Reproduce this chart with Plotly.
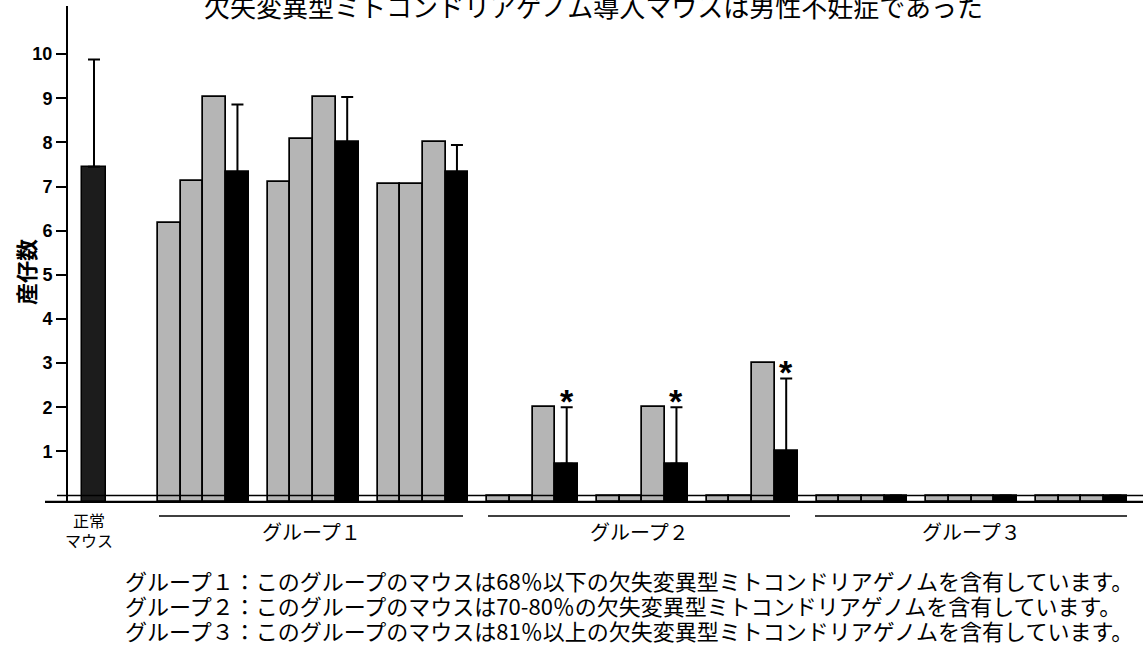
import plotly.graph_objects as go

# ---------------- data ----------------
title_text = "欠失変異型ミトコンドリアゲノム導入マウスは男性不妊症であった"
y_title = "産仔数"
normal_label = ["正常", "マウス"]
group_labels = ["グループ１", "グループ２", "グループ３"]
footnotes = [
    "グループ１：このグループのマウスは68％以下の欠失変異型ミトコンドリアゲノムを含有しています。",
    "グループ２：このグループのマウスは70-80％の欠失変異型ミトコンドリアゲノムを含有しています。",
    "グループ３：このグループのマウスは81％以上の欠失変異型ミトコンドリアゲノムを含有しています。",
]

normal_mean = 7.45
normal_sd = 2.43

# each group has 3 subgroups; each subgroup: 3 individual mice (gray) + mean (black)
g1_individual = [[6.18, 7.12, 9.02], [7.11, 8.07, 9.02], [7.06, 7.06, 8.01]]
g1_mean = [7.33, 8.01, 7.32]
g1_sd = [1.53, 1.02, 0.62]

g2_individual = [[0, 0, 2], [0, 0, 2], [0, 0, 3]]
g2_mean = [0.72, 0.72, 1.0]
g2_sd = [1.28, 1.28, 1.65]

g3_individual = [[0, 0, 0], [0, 0, 0], [0, 0, 0]]
g3_mean = [0, 0, 0]
g3_sd = [0, 0, 0]

significant = [False, False, False, True, True, True, False, False, False]

yticks = list(range(1, 11))

# ---------------- layout constants ----------------
W, H = 1143, 647
L, R, T, B = 68, 0, 6, 144
BAR_PX = 22.7
NORMAL_PX = 94.0
FIRST_PX = 169.35
STEP_PX = 109.75
BASE = -0.15
YMIN, YMAX = -0.17, 11.09

OFFSET = (FIRST_PX - NORMAL_PX) / BAR_PX
STEP = STEP_PX / BAR_PX
XMIN = (L - NORMAL_PX) / BAR_PX
XMAX = (W - R - NORMAL_PX) / BAR_PX

pw = W - L - R
ph = H - T - B


def px2x(px):
    return (px - L) / pw


def py2y(py):
    return (H - B - py) / ph


all_ind = g1_individual + g2_individual + g3_individual
all_mean = g1_mean + g2_mean + g3_mean
all_sd = g1_sd + g2_sd + g3_sd

gray_x, gray_y = [], []
black_x, black_y, black_err = [], [], []
for k, (ind, m, s) in enumerate(zip(all_ind, all_mean, all_sd)):
    start = OFFSET + k * STEP
    for j, v in enumerate(ind):
        gray_x.append(start + j)
        gray_y.append(v - BASE)
    black_x.append(start + 3)
    black_y.append(m - BASE)
    black_err.append(s)

fig = go.Figure()

fig.add_trace(go.Bar(
    x=[0], y=[normal_mean - BASE], base=BASE, width=1.1,
    marker=dict(color="#1c1c1c", line=dict(color="black", width=1.5)),
    error_y=dict(type="data", symmetric=False, array=[normal_sd], arrayminus=[0],
                 color="black", thickness=2, width=6),
    showlegend=False, hoverinfo="skip",
))
fig.add_trace(go.Bar(
    x=gray_x, y=gray_y, base=BASE, width=1,
    marker=dict(color="#b5b5b5", line=dict(color="black", width=1.7)),
    showlegend=False, hoverinfo="skip",
))
fig.add_trace(go.Bar(
    x=black_x, y=black_y, base=BASE, width=1,
    marker=dict(color="black", line=dict(color="black", width=1.7)),
    error_y=dict(type="data", symmetric=False, array=black_err,
                 arrayminus=[0] * len(black_err),
                 color="black", thickness=2, width=6),
    showlegend=False, hoverinfo="skip",
))

shapes = []
# thin zero line and thick baseline
shapes.append(dict(type="line", xref="paper", yref="y", x0=px2x(57), x1=1, y0=0, y1=0,
                   line=dict(color="black", width=1.3), layer="above"))
shapes.append(dict(type="line", xref="paper", yref="y", x0=px2x(45), x1=1, y0=YMIN + 0.02,
                   y1=YMIN + 0.02, line=dict(color="black", width=2.5), layer="above"))
# group underlines
group_lines = [(159, 463), (488, 790), (815, 1127)]
for (a, b) in group_lines:
    shapes.append(dict(type="line", xref="paper", yref="paper", x0=px2x(a), x1=px2x(b),
                       y0=py2y(516), y1=py2y(516), line=dict(color="black", width=1.6)))

annotations = []
annotations.append(dict(text=title_text, xref="paper", yref="paper", x=px2x(593), y=py2y(5),
                        xanchor="center", yanchor="middle", showarrow=False,
                        font=dict(family="Noto Sans CJK JP", size=26, color="black")))
annotations.append(dict(text=y_title, xref="paper", yref="paper", x=px2x(25), y=py2y(272),
                        xanchor="center", yanchor="middle", showarrow=False, textangle=-90,
                        font=dict(family="Noto Sans CJK JP", size=22, color="black", weight="bold")))
for i, lab in enumerate(normal_label):
    annotations.append(dict(text=lab, xref="paper", yref="paper", x=px2x(89), y=py2y(520 + 20 * i),
                            xanchor="center", yanchor="middle", showarrow=False,
                            font=dict(family="Noto Sans CJK JP", size=16, color="black")))
for (a, b), lab in zip(group_lines, group_labels):
    annotations.append(dict(text=lab, xref="paper", yref="paper", x=px2x((a + b) / 2), y=py2y(531),
                            xanchor="center", yanchor="middle", showarrow=False,
                            font=dict(family="Noto Sans CJK JP", size=20, color="black")))
for i, line in enumerate(footnotes):
    annotations.append(dict(text=line, xref="paper", yref="paper", x=px2x(123), y=py2y(580 + 25 * i),
                            xanchor="left", yanchor="middle", showarrow=False,
                            font=dict(family="Noto Sans CJK JP", size=22, color="black")))
for k, sig in enumerate(significant):
    if sig:
        annotations.append(dict(text="*", xref="x", yref="y", x=black_x[k],
                                y=all_mean[k] + all_sd[k] + 0.15,
                                xanchor="center", yanchor="middle", showarrow=False,
                                font=dict(family="Liberation Sans", size=34, color="black",
                                          weight="bold")))

fig.update_layout(
    width=W, height=H,
    margin=dict(l=L, r=R, t=T, b=B, pad=0),
    paper_bgcolor="white", plot_bgcolor="white",
    barmode="overlay", bargap=0,
    shapes=shapes, annotations=annotations,
    xaxis=dict(range=[XMIN, XMAX], visible=False, fixedrange=True),
    yaxis=dict(range=[YMIN, YMAX], tickvals=yticks, ticks="outside", ticklen=10,
               tickwidth=1.5, tickcolor="black", showline=True, linewidth=2, linecolor="black",
               showgrid=False, zeroline=False, fixedrange=True,
               tickfont=dict(family="Liberation Sans", size=18, color="black", weight="bold")),
)

fig.write_html("out.html")
